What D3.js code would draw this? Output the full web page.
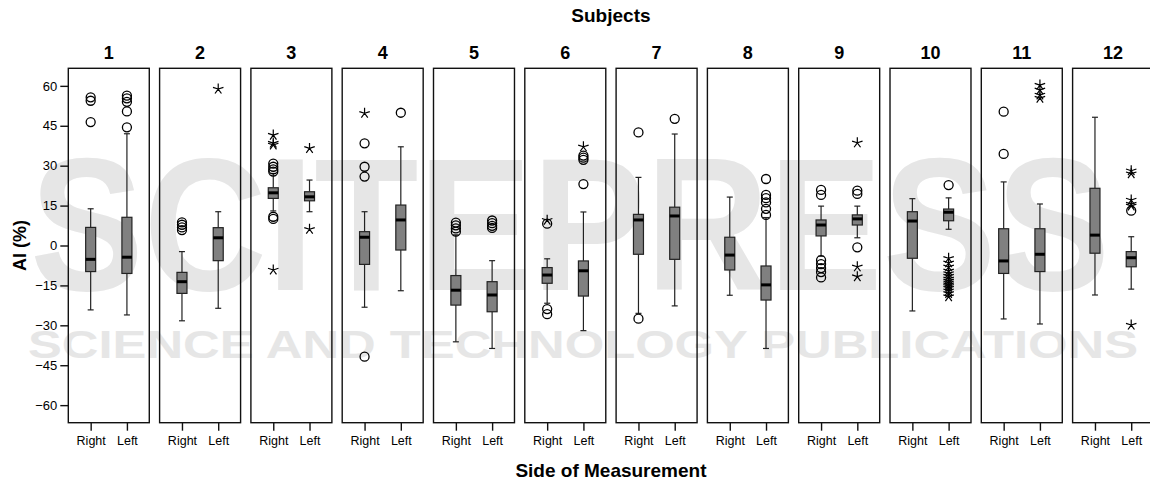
<!DOCTYPE html>
<html>
<head>
<meta charset="utf-8">
<script src="https://cdn.jsdelivr.net/npm/d3@7"></script>
<style>
  body { margin: 0; background: #fff; }
  svg text { font-family: Arial, "Liberation Sans", sans-serif; }
</style>
</head>
<body>
<svg id="chart" width="1150" height="484"></svg>
<script>
const subjects = ["1", "2", "3", "4", "5", "6", "7", "8", "9", "10", "11", "12"];
const sides = ["Right", "Left"];
const yTicks = [-60, -45, -30, -15, 0, 15, 30, 45, 60];

// [lower whisker, Q1, median, Q3, upper whisker]
const rightBoxes = [
    [-24.2, -9.8, -5.2, 6.8, 13.8],
    [-28.3, -18, -13.6, -10.1, -2.3],
    [13, 17.7, 19.8, 21.7, 27.1],
    [-23.2, -7.1, 3.1, 5.2, 12.7],
    [-36.2, -22.4, -16.8, -11.3, 4],
    [-21.7, -14.2, -11.1, -8.3, -5],
    [-25.5, -3.3, 9.6, 11.7, 25.6],
    [-18.7, -9.2, -3.6, 3.1, 18.2],
    [-4, 3.6, 7.7, 9.6, 14.8],
    [-24.6, -4.8, 9.2, 12.7, 17.6],
    [-27.6, -10.5, -5.8, 6.3, 23.9],
    [-18.6, -2.9, 3.9, 21.5, 48.2]
];
const leftBoxes = [
    [-26.1, -10.5, -4.4, 10.6, 42],
    [-23.6, -5.7, 2.9, 6.7, 12.7],
    [12.7, 16.8, 18.3, 20.2, 24.6],
    [-17, -1.7, 9.6, 15.2, 37.1],
    [-38.7, -24.9, -18.6, -13.6, -5.7],
    [-32, -19, -9.5, -5.8, 12.6],
    [-22.7, -5.2, 11.1, 14.4, 41.9],
    [-38.7, -20.5, -14.8, -7.7, 10.5],
    [2.9, 7.7, 10, 11.5, 14.8],
    [6.1, 9.3, 12.5, 13.7, 17.9],
    [-29.5, -9.8, -3.3, 6.3, 15.6],
    [-16.4, -8, -4.6, -2.3, 3.3]
];

// circles (outliers) and stars (extremes)
const rightOutliers = [
    [55.7, 54.4, 46.4],
    [8.7, 7.8, 6.8, 5.8],
    [30.8, 29.6, 28.6, 27.8, 10.8, 10],
    [38.4, 29.6, 25.9, -41.8],
    [8.6, 7.6, 6.4, 5.2],
    [8.2, -23.9, -25.8],
    [42.5, -27.5],
    [],
    [20.9, 19, -5.5, -7, -8.5, -10, -12],
    [],
    [50.3, 34.4],
    []
];
const rightExtremes = [
    [], [], [41.5, 38.5, 37.8, -9.2], [49.7], [], [9.5], [], [], [], [], [], []
];
const leftOutliers = [
    [56.3, 55.3, 54, 50.4, 44.4],
    [],
    [],
    [49.9],
    [9.4, 8.4, 7.4, 6.6],
    [33.8, 33, 32.2, 23.1],
    [47.6],
    [25, 19, 17.8, 16.2, 13.8, 11.5],
    [20.6, 19.4, -0.7],
    [22.7],
    [],
    [13.1]
];
const leftExtremes = [
    [],
    [58.8],
    [36.5, 6.1],
    [],
    [],
    [37.1],
    [],
    [],
    [38.6, -8, -11.7],
    [-4.8, -6.5, -8, -9.5, -10.5, -11.5, -12.5, -13.3, -14, -14.7, -15.3, -16, -17, -18, -19.2],
    [60.3, 58.5, 56.6, 55.4],
    [28.1, 27, 17.1, 15.6, 14.9, -29.9]
];

const svg = d3.select("#chart");
const plotTop = 68.3, plotBottom = 422.7;

// light publisher watermark behind the chart
const wm = svg.append("g").attr("fill", "#e6e6e6");
wm.append("text")
    .attr("x", 30).attr("y", 290)
    .attr("font-size", 190).attr("font-weight", "bold")
    .attr("textLength", 1080).attr("lengthAdjust", "spacingAndGlyphs")
    .text("SCITEPRESS");
wm.append("text")
    .attr("x", 28).attr("y", 358)
    .attr("font-size", 38).attr("font-weight", "bold")
    .attr("textLength", 1110).attr("lengthAdjust", "spacingAndGlyphs")
    .text("SCIENCE AND TECHNOLOGY PUBLICATIONS");

const y = d3.scaleLinear().domain([-66.6, 66.6]).range([plotBottom, plotTop]);

const panelX = d3.scaleBand()
    .domain(subjects)
    .range([68.3, 68.3 + 91.3 * (12 - 0.113)])
    .paddingInner(0.113);
const pw = panelX.bandwidth();

const sideX = d3.scalePoint().domain(sides).range([0, pw]).padding(0.617);

const boxW = 10, capW = 6;

function starPath(r) {
    let p = "";
    for (let i = 0; i < 5; i++) {
        const a = -Math.PI / 2 + i * 2 * Math.PI / 5;
        p += `M0,0L${(r * Math.cos(a)).toFixed(2)},${(r * Math.sin(a)).toFixed(2)}`;
    }
    return p;
}

subjects.forEach((s, i) => {
    const g = svg.append("g").attr("transform", `translate(${panelX(s)},0)`);

    g.append("rect")
        .attr("x", 0).attr("y", plotTop)
        .attr("width", pw).attr("height", plotBottom - plotTop)
        .attr("fill", "none").attr("stroke", "#111").attr("stroke-width", 1.4);

    g.append("text")
        .attr("x", pw / 2).attr("y", 59)
        .attr("text-anchor", "middle")
        .attr("font-size", 18).attr("font-weight", "bold")
        .text(s);

    const groups = [
        {side: "Right", box: rightBoxes[i], out: rightOutliers[i], ext: rightExtremes[i]},
        {side: "Left", box: leftBoxes[i], out: leftOutliers[i], ext: leftExtremes[i]}
    ];

    groups.forEach(d => {
        const cx = sideX(d.side);
        const [lo, q1, med, q3, hi] = d.box;
        const bg = g.append("g").attr("stroke", "#222").attr("stroke-width", 1.2);
        bg.append("line").attr("x1", cx).attr("x2", cx).attr("y1", y(hi)).attr("y2", y(q3));
        bg.append("line").attr("x1", cx).attr("x2", cx).attr("y1", y(q1)).attr("y2", y(lo));
        bg.append("line").attr("x1", cx - capW / 2).attr("x2", cx + capW / 2).attr("y1", y(hi)).attr("y2", y(hi));
        bg.append("line").attr("x1", cx - capW / 2).attr("x2", cx + capW / 2).attr("y1", y(lo)).attr("y2", y(lo));
        bg.append("rect")
            .attr("x", cx - boxW / 2).attr("y", y(q3))
            .attr("width", boxW).attr("height", y(q1) - y(q3))
            .attr("fill", "#808080");
        bg.append("line")
            .attr("x1", cx - boxW / 2).attr("x2", cx + boxW / 2)
            .attr("y1", y(med)).attr("y2", y(med))
            .attr("stroke", "#000").attr("stroke-width", 3);

        g.append("g").selectAll("circle")
            .data(d.out)
            .enter().append("circle")
            .attr("cx", cx).attr("cy", v => y(v))
            .attr("r", 4.5)
            .attr("fill", "none").attr("stroke", "#000").attr("stroke-width", 1.3);

        g.append("g").selectAll("path")
            .data(d.ext)
            .enter().append("path")
            .attr("transform", v => `translate(${cx},${y(v)})`)
            .attr("d", starPath(5.5))
            .attr("fill", "none").attr("stroke", "#000").attr("stroke-width", 1.2);
    });

    const xa = g.append("g")
        .attr("transform", `translate(0,${plotBottom})`)
        .call(d3.axisBottom(sideX).tickSize(8).tickPadding(5));
    xa.select(".domain").remove();
    xa.selectAll("line").attr("stroke", "#111").attr("stroke-width", 1.4);
    xa.selectAll("text").attr("font-size", 12.5).attr("fill", "#000")
        .style("font-family", "Arial, 'Liberation Sans', sans-serif");
});

// y axis on first panel
const ya = svg.append("g")
    .attr("transform", `translate(${panelX(subjects[0])},0)`)
    .call(d3.axisLeft(y).tickValues(yTicks).tickSize(8).tickPadding(3));
ya.select(".domain").remove();
ya.selectAll("line").attr("stroke", "#111").attr("stroke-width", 1.4);
ya.selectAll("text").attr("font-size", 13).attr("fill", "#000")
    .style("font-family", "Arial, 'Liberation Sans', sans-serif");

const midX = (panelX(subjects[0]) + panelX(subjects[11]) + pw) / 2;

svg.append("text")
    .attr("x", midX).attr("y", 22)
    .attr("text-anchor", "middle")
    .attr("font-size", 19).attr("font-weight", "bold")
    .text("Subjects");

svg.append("text")
    .attr("x", midX).attr("y", 477)
    .attr("text-anchor", "middle")
    .attr("font-size", 19).attr("font-weight", "bold")
    .text("Side of Measurement");

svg.append("text")
    .attr("transform", `translate(26,${y(0)}) rotate(-90)`)
    .attr("text-anchor", "middle")
    .attr("font-size", 18).attr("font-weight", "bold")
    .text("AI (%)");
</script>
</body>
</html>
